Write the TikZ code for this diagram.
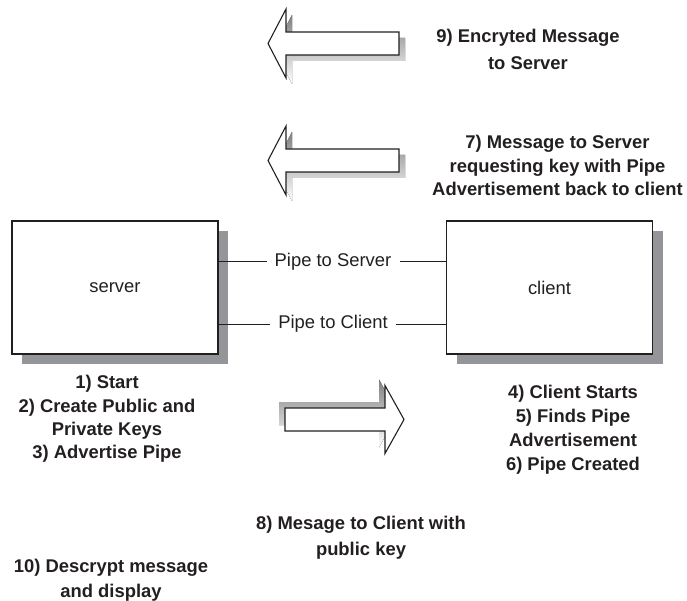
\documentclass[tikz,border=0pt]{standalone}
\usepackage{fontspec}
\setmainfont{Liberation Sans}
\usetikzlibrary{shadows}
\definecolor{ink}{HTML}{231F20}
\definecolor{shade}{HTML}{939598}
\tikzset{
  box/.style={draw=ink, line width=1.3pt, fill=white, minimum width=206pt, minimum height=133pt,
    inner sep=0pt, text=ink, font=\fontsize{18.4}{22}\selectfont,
    drop shadow={shadow xshift=10pt, shadow yshift=-10pt, fill=shade, opacity=1}},
  lbl/.style={align=center, text=ink, inner sep=0pt},
  pipelbl/.style={text=ink, font=\fontsize{18.4}{22}\selectfont, inner xsep=8pt, inner ysep=0pt},
  pipe/.style={draw=ink, line width=1pt},
  blk/.style={draw=ink, line width=1.1pt, fill=white, line join=miter},
  larrow/.pic={
    \fill[shade] (6,6) -- (24,-28.5) -- (24,-5.5) -- (137,-5.5) -- (137,17.5) -- (24,17.5) -- (24,40.5) -- cycle;
    \draw[blk] (0,0) -- (18,-34.5) -- (18,-11.5) -- (131,-11.5) -- (131,11.5) -- (18,11.5) -- (18,34.5) -- cycle;
  },
  rarrow/.pic={
    \fill[shade] (-6,-6) -- (-25,-40) -- (-25,-17.5) -- (-125,-17.5) -- (-125,5.5) -- (-25,5.5) -- (-25,28) -- cycle;
    \draw[blk] (0,0) -- (-19,-34) -- (-19,-11.5) -- (-119,-11.5) -- (-119,11.5) -- (-19,11.5) -- (-19,34) -- cycle;
  }
}
\begin{document}
\begin{tikzpicture}[x=1pt,y=-1pt]
\useasboundingbox (0,0) rectangle (687,601);

% block arrows
\pic at (268,43.5) {larrow};
\pic at (268,160.5) {larrow};
\pic at (404,419.5) {rarrow};

% boxes
\node[box] (server) at (115,287.5) {server};
\node[box] (client) at (549.5,287.5) {client};

% pipes
\node[pipelbl] (pts) at (333,262) {Pipe to Server};
\node[pipelbl] (ptc) at (333,324) {Pipe to Client};
\draw[pipe] (pts.west) -- (pts.west -| server.east);
\draw[pipe] (pts.east) -- (pts.east -| client.west);
\draw[pipe] (ptc.west) -- (ptc.west -| server.east);
\draw[pipe] (ptc.east) -- (ptc.east -| client.west);

% labels
\node[lbl, font=\fontsize{18.4}{27}\selectfont\bfseries] (l9) at (528,49.5)
  {9) Encryted Message\\to Server};
\node[lbl, font=\fontsize{18.4}{23.5}\selectfont\bfseries] (l7) at (557.5,165.5)
  {7) Message to Server\\requesting key with Pipe\\Advertisement back to client};
\node[lbl, font=\fontsize{18.4}{23.3}\selectfont\bfseries] (l1) at (107,419)
  {1) Start\\2) Create Public and\\Private Keys\\3) Advertise Pipe};
\node[lbl, font=\fontsize{18.4}{24}\selectfont\bfseries] (l4) at (573,430)
  {4) Client Starts\\5) Finds Pipe\\Advertisement\\6) Pipe Created};
\node[lbl, font=\fontsize{18.4}{26}\selectfont\bfseries] (l8) at (361,538)
  {8) Mesage to Client with\\public key};
\node[lbl, font=\fontsize{18.4}{25}\selectfont\bfseries] (l10) at (111,580.5)
  {10) Descrypt message\\and display};
\end{tikzpicture}
\end{document}
